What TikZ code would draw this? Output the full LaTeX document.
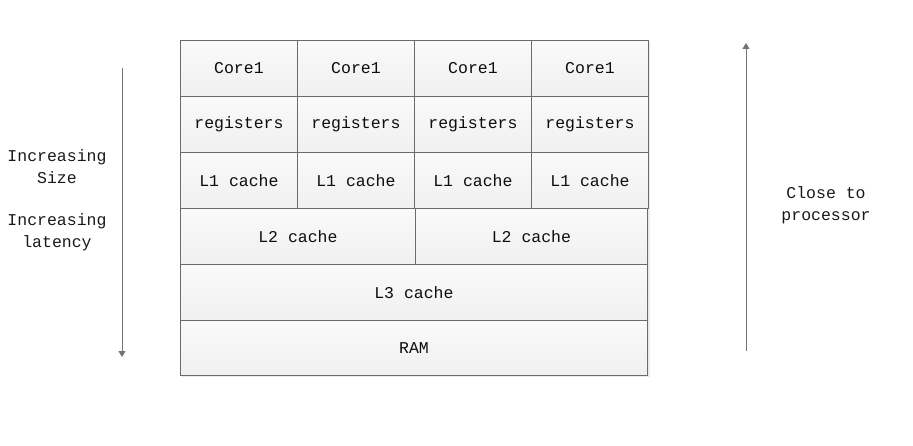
\documentclass[tikz,border=0pt]{standalone}
\usepackage{fontspec}
\setmainfont{Liberation Mono}
\usetikzlibrary{arrows.meta}
\begin{document}
\begin{tikzpicture}[x=1pt,y=-1pt,
  cell/.style={draw=black!58, line width=0.9pt, top color=white!98!black,
    bottom color=black!6, inner sep=0pt, anchor=north west,
    font=\fontsize{16.5}{18}\selectfont, text=black!95},
  axis/.style={draw=black!55, line width=0.9pt,
    -{Triangle[width=7pt,length=6pt]}},
  note/.style={align=center, font=\fontsize{16.5}{22}\selectfont, text=black!90}]
\useasboundingbox (0,0) rectangle (913,446);
% soft shadow under the stack
\fill[black!8] (182,42) rectangle (650,377);
% per-core rows
\foreach \i in {1,...,4}{
  \pgfmathsetmacro\xx{180+117*(\i-1)}
  \node[cell, minimum width=117pt, minimum height=56pt] (core\i) at (\xx,40) {Core1};
  \node[cell, minimum width=117pt, minimum height=56pt] (reg\i) at (\xx,96) {registers};
  \node[cell, minimum width=117pt, minimum height=56pt] (lone\i) at (\xx,152) {L1 cache};
}
% shared caches and memory
\node[cell, minimum width=235pt, minimum height=56pt] (ltwoa) at (180,208) {L2 cache};
\node[cell, minimum width=232pt, minimum height=56pt] (ltwob) at (415,208) {L2 cache};
\node[cell, minimum width=467pt, minimum height=56pt] (lthree) at (180,264) {L3 cache};
\node[cell, minimum width=467pt, minimum height=55pt] (ram) at (180,320) {RAM};
% direction arrows
\coordinate (downtop) at (122,68);
\coordinate (downbot) at (122,357);
\coordinate (upbot) at (746,351);
\coordinate (uptop) at (746,43);
\draw[axis] (downtop) -- (downbot);
\draw[axis] (upbot) -- (uptop);
% side labels
\node[note] (size) at (57,167) {Increasing\\Size};
\node[note] (lat) at (57,232) {Increasing\\latency};
\node[note] (close) at (826,205) {Close to\\processor};
\end{tikzpicture}
\end{document}
